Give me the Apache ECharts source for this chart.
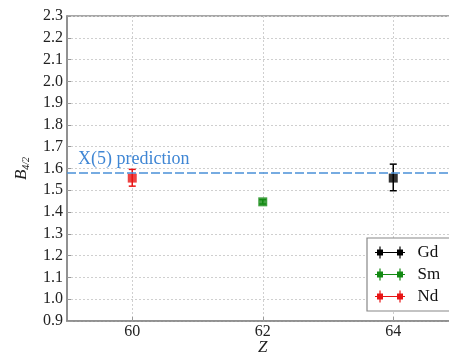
<!DOCTYPE html>
<html>
<head>
<meta charset="utf-8">
<script src="https://cdn.jsdelivr.net/npm/echarts@6/dist/echarts.min.js"></script>
<style>html,body{margin:0;padding:0;background:#fff}#c{width:449px;height:358px}</style>
</head>
<body>
<div id="c"></div>
<script>
const names = ['Gd', 'Sm', 'Nd'];
const zValues = [64, 62, 60];
const bValues = [1.556, 1.447, 1.556];
const errHigh = [0.064, 0.010, 0.040];
const errLow = [0.058, 0.010, 0.037];
const colors = ['#000000', '#138a13', '#e81414'];
const predictionValue = 1.578;
const predictionLabel = 'X(5) prediction';
const xTicks = [60, 62, 64];
const yMin = 0.9, yMax = 2.3, yStep = 0.1;

const FONT = "Liberation Serif, DejaVu Serif, serif";
const legendIcon = 'path://M0,5.4h30v1.2h-30z M2,3h6v6h-6z M22,3h6v6h-6z M4.4,0h1.2v12h-1.2z M24.4,0h1.2v12h-1.2z';

const series = [];
names.forEach((n, i) => {
  series.push({
    name: n,
    type: 'custom',
    z: 3,
    itemStyle: {color: colors[i]},
    data: [[zValues[i], bValues[i], errHigh[i], errLow[i]]],
    renderItem: function (params, api) {
      const x = api.value(0), y = api.value(1);
      const top = api.coord([x, y + api.value(2)]);
      const bot = api.coord([x, y - api.value(3)]);
      const cap = 3.5;
      const st = {stroke: colors[i], lineWidth: 1.5};
      return {type: 'group', children: [
        {type: 'line', shape: {x1: top[0], y1: top[1], x2: bot[0], y2: bot[1]}, style: st},
        {type: 'line', shape: {x1: top[0] - cap, y1: top[1], x2: top[0] + cap, y2: top[1]}, style: st},
        {type: 'line', shape: {x1: bot[0] - cap, y1: bot[1], x2: bot[0] + cap, y2: bot[1]}, style: st}
      ]};
    }
  });
  series.push({
    name: n,
    type: 'scatter',
    z: 4,
    symbol: 'rect',
    symbolSize: 9,
    itemStyle: {color: colors[i]},
    data: [[zValues[i], bValues[i]]]
  });
});
series.push({
  type: 'line',
  data: [],
  z: 1,
  markLine: {
    silent: true,
    symbol: 'none',
    lineStyle: {color: '#4a90d8', width: 1.6, type: [9, 3]},
    label: {
      show: true, position: 'insideStartTop', formatter: predictionLabel,
      color: '#3f86d4', fontFamily: FONT, fontSize: 18, distance: [11, 5]
    },
    data: [{yAxis: predictionValue}]
  }
});

const chart = echarts.init(document.getElementById('c'));
chart.setOption({
  animation: false,
  backgroundColor: '#fff',
  grid: {left: 67, top: 16, right: -9.5, bottom: 37, outerBoundsMode: 'none', containLabel: false,
    show: true, borderColor: '#8a8a8a', borderWidth: 1.5},
  xAxis: {
    type: 'value', min: 59, max: 65,
    name: 'Z', nameLocation: 'middle', nameGap: 18, nameMoveOverlap: false,
    nameTextStyle: {fontFamily: FONT, fontStyle: 'italic', fontSize: 17, color: '#222'},
    axisLine: {lineStyle: {color: '#8a8a8a', width: 1.5}},
    axisTick: {inside: true, length: 4, customValues: xTicks, lineStyle: {color: '#999'}},
    axisLabel: {customValues: xTicks, fontFamily: FONT, fontSize: 16, color: '#222', margin: 3},
    splitLine: {show: true, lineStyle: {color: '#cfcfcf', type: [2, 2], width: 1}}
  },
  yAxis: {
    type: 'value', min: yMin, max: yMax, interval: yStep,
    name: '{i|B}{s|4/2}', nameLocation: 'middle', nameGap: 36, nameRotate: 90, nameMoveOverlap: false,
    nameTextStyle: {
      rich: {
        i: {fontFamily: FONT, fontStyle: 'italic', fontSize: 17, color: '#222'},
        s: {fontFamily: FONT, fontStyle: 'italic', fontSize: 10, color: '#222', padding: [8, 0, 0, 0]}
      }
    },
    axisLine: {lineStyle: {color: '#8a8a8a', width: 1.5}},
    axisTick: {inside: true, length: 4, lineStyle: {color: '#999'}},
    axisLabel: {fontFamily: FONT, fontSize: 16, color: '#222', margin: 4, formatter: v => v.toFixed(1)},
    splitLine: {show: true, lineStyle: {color: '#cfcfcf', type: [2, 2], width: 1}}
  },
  legend: {
    orient: 'vertical', left: 367, top: 238,
    data: names,
    icon: legendIcon, itemWidth: 31, itemHeight: 12, itemGap: 5,
    padding: [6, 30, 6, 8],
    borderColor: '#888', borderWidth: 1.2, backgroundColor: '#fff',
    textStyle: {fontFamily: FONT, fontSize: 17, color: '#111', padding: [0, 0, 0, 7]}
  },
  series: series
});
</script>
</body>
</html>
